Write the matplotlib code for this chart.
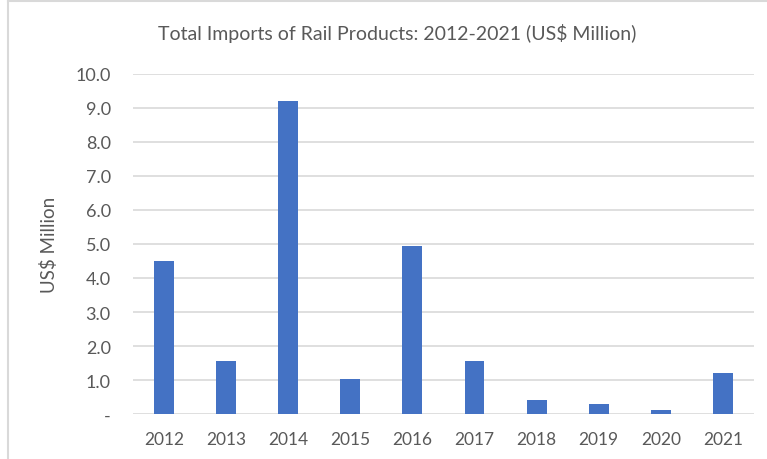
import numpy as np
import matplotlib.pyplot as plt
from matplotlib.lines import Line2D

years = ['2012', '2013', '2014', '2015', '2016', '2017', '2018', '2019', '2020', '2021']
imports = [4.50, 1.57, 9.22, 1.03, 4.93, 1.57, 0.40, 0.28, 0.11, 1.22]
y_ticks = [0, 1, 2, 3, 4, 5, 6, 7, 8, 9, 10]
y_labels = ['-'] + [f'{v:.1f}' for v in y_ticks[1:]]

plt.rcParams['font.family'] = ['Lato', 'DejaVu Sans']
txt_col = '#595959'
grid_col = '#D9D9D9'

fig = plt.figure(figsize=(7.67, 4.6), dpi=100)
ax = fig.add_axes([0.1734, 0.0978, 0.8096, 0.7392])

x = np.arange(len(years))
ax.bar(x, imports, width=0.32, color='#4472C4', zorder=3)

ax.set_xlim(-0.5, len(years) - 0.5)
ax.set_ylim(0, 10)
ax.set_yticks(y_ticks)
ax.set_yticklabels(y_labels)
ax.set_xticks(x)
ax.set_xticklabels(years)
ax.yaxis.grid(True, color=grid_col, linewidth=1.2, zorder=0)
ax.tick_params(axis='both', length=0, colors=txt_col)
ax.tick_params(axis='y', pad=16, labelsize=13)
ax.tick_params(axis='x', pad=12, labelsize=12.5)
for s in ax.spines.values():
    s.set_visible(False)

ax.set_ylabel('US$ Million', color=txt_col, fontsize=13.5)
ax.yaxis.set_label_coords(-0.12, 0.5)

fig.text(0.518, 0.928, 'Total Imports of Rail Products: 2012-2021 (US$ Million)',
         ha='center', va='center', color=txt_col, fontsize=14)

# chart border (only top and left visible in the crop)
fig.add_artist(Line2D([0.011, 0.011], [0, 0.995], transform=fig.transFigure, color=grid_col, linewidth=1.5))
fig.add_artist(Line2D([0.011, 1], [0.995, 0.995], transform=fig.transFigure, color=grid_col, linewidth=1.5))

plt.savefig('out.png', dpi=100)
